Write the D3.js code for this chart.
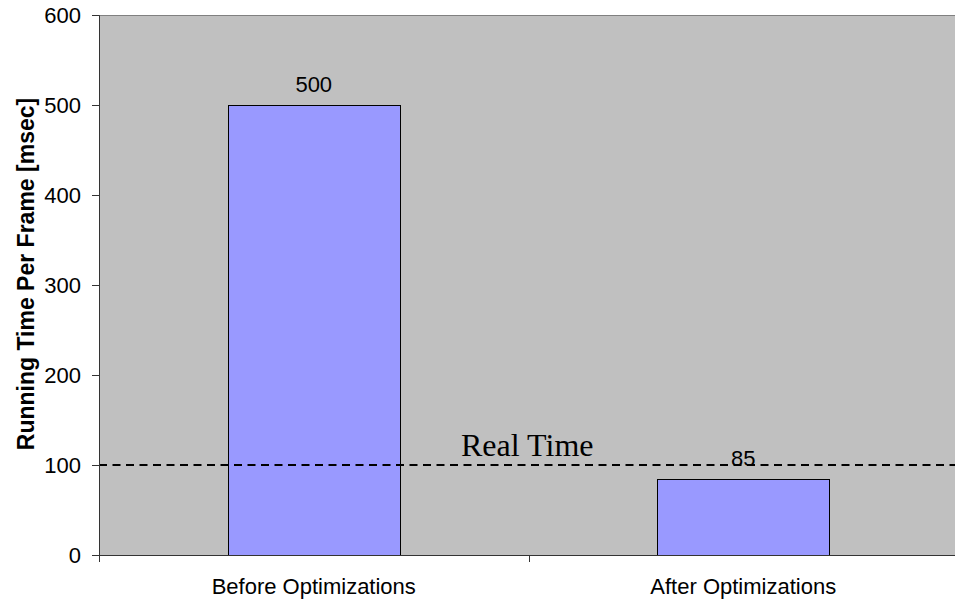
<!DOCTYPE html>
<html>
<head>
<meta charset="utf-8">
<script src="https://cdn.jsdelivr.net/npm/d3@7"></script>
<style>
  html, body { margin: 0; padding: 0; background: #fff; overflow: hidden; }
  svg { display: block; }
</style>
</head>
<body>
<svg id="chart" width="955" height="603"></svg>
<script>
// Running time per frame, before and after optimizations
const categories = ["Before Optimizations", "After Optimizations"];
const values = [500, 85];
const yTicks = [0, 100, 200, 300, 400, 500, 600];
const realTime = 100;
const realTimeLabel = "Real Time";
const yTitle = "Running Time Per Frame [msec]";

const svg = d3.select("#chart");
const margin = { left: 99, top: 15, right: -3, bottom: 48 };
const width = 955 - margin.left - margin.right;
const height = 603 - margin.top - margin.bottom;
const sans = "Liberation Sans, Arial, sans-serif";

const g = svg.append("g").attr("transform", `translate(${margin.left},${margin.top})`);

const x = d3.scaleBand().domain(categories).range([0, width]).padding(0);
const y = d3.scaleLinear().domain([0, 600]).range([height, 0]);

// plot background
g.append("rect")
  .attr("x", 0).attr("y", 0)
  .attr("width", width).attr("height", height)
  .attr("fill", "#c0c0c0");

// top border
g.append("line")
  .attr("x1", 0).attr("x2", width)
  .attr("y1", 0.5).attr("y2", 0.5)
  .attr("stroke", "#808080").attr("stroke-width", 1);

const rows = categories.map((c, i) => ({ c, v: values[i] }));

// bars
const bw = x.bandwidth();
g.selectAll("rect.bar")
  .data(rows)
  .join("rect")
  .attr("class", "bar")
  .attr("x", d => Math.round(x(d.c) + bw * 0.3) + 0.5)
  .attr("y", d => Math.round(y(d.v)) + 0.5)
  .attr("width", Math.round(bw * 0.4))
  .attr("height", d => y(0) - Math.round(y(d.v)))
  .attr("fill", "#9999ff")
  .attr("stroke", "#000")
  .attr("stroke-width", 1);

// real-time threshold
g.append("line")
  .attr("x1", 0).attr("x2", width)
  .attr("y1", Math.round(y(realTime))).attr("y2", Math.round(y(realTime)))
  .attr("stroke", "#000").attr("stroke-width", 2)
  .attr("stroke-dasharray", "8,5.5");

g.append("text")
  .attr("x", 362)
  .attr("y", y(realTime) - 9)
  .attr("font-family", "Liberation Serif, Times New Roman, serif")
  .attr("font-size", 32)
  .attr("fill", "#000")
  .text(realTimeLabel);

// value labels
g.selectAll("text.val")
  .data(rows)
  .join("text")
  .attr("class", "val")
  .attr("x", d => x(d.c) + bw / 2)
  .attr("y", d => y(d.v) - 13)
  .attr("text-anchor", "middle")
  .attr("font-family", sans)
  .attr("font-size", 22)
  .attr("fill", "#000")
  .text(d => d.v);

// y axis
const yAxis = g.append("g")
  .call(d3.axisLeft(y).tickValues(yTicks).tickSize(7).tickPadding(11));
yAxis.select(".domain").attr("stroke", "#333");
yAxis.selectAll(".tick line").attr("stroke", "#333");
yAxis.selectAll("text")
  .attr("font-family", sans)
  .attr("font-size", 22)
  .attr("fill", "#000");

// x axis with ticks between categories
const xg = g.append("g").attr("transform", `translate(0,${height})`);
xg.append("line")
  .attr("x1", 0).attr("x2", width)
  .attr("y1", 0.5).attr("y2", 0.5)
  .attr("stroke", "#333");
const boundaries = categories.map(c => x(c)).concat([width]);
xg.selectAll("line.tk")
  .data(boundaries)
  .join("line")
  .attr("class", "tk")
  .attr("x1", d => Math.round(d) + 0.5).attr("x2", d => Math.round(d) + 0.5)
  .attr("y1", 0).attr("y2", 7)
  .attr("stroke", "#333");
xg.selectAll("text")
  .data(categories)
  .join("text")
  .attr("x", d => x(d) + bw / 2)
  .attr("y", 39)
  .attr("text-anchor", "middle")
  .attr("font-family", sans)
  .attr("font-size", 22)
  .attr("fill", "#000")
  .text(d => d);

// y axis title
svg.append("text")
  .attr("transform", `translate(34,274) rotate(-90)`)
  .attr("text-anchor", "middle")
  .attr("font-family", sans)
  .attr("font-size", 23)
  .attr("font-weight", "bold")
  .attr("fill", "#000")
  .text(yTitle);
</script>
</body>
</html>
